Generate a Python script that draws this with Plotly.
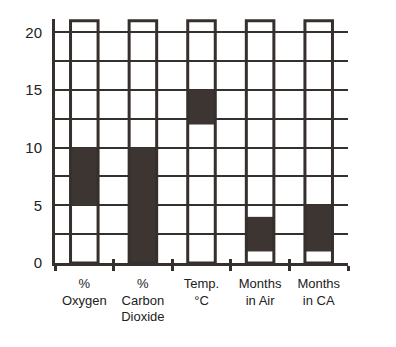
import plotly.graph_objects as go

categories = ["%<br>Oxygen", "%<br>Carbon<br>Dioxide", "Temp.<br>°C", "Months<br>in Air", "Months<br>in CA"]
range_low = [5, 0, 12, 1, 1]
range_high = [10, 10, 15, 4, 5]
column_top = [21, 21, 21, 21, 21]
y_tick_vals = [0, 2.5, 5, 7.5, 10, 12.5, 15, 17.5, 20]
y_tick_text = ["0", "", "5", "", "10", "", "15", "", "20"]

ink = "#35302d"
fill = "#3d3531"

fig = go.Figure()
fig.add_trace(go.Bar(
    x=categories, y=[h - l for h, l in zip(range_high, range_low)], base=range_low,
    width=0.47, marker=dict(color=fill, line=dict(width=0)), showlegend=False,
))
fig.add_trace(go.Bar(
    x=categories, y=column_top, base=0, width=0.47,
    marker=dict(color="rgba(0,0,0,0)", line=dict(color=ink, width=3)),
    showlegend=False, cliponaxis=False,
))
# invisible trace to carry the boundary tick axis
fig.add_trace(go.Scatter(x=[0], y=[0], xaxis="x2", mode="markers",
                         marker=dict(opacity=0), showlegend=False, hoverinfo="skip"))

fig.update_layout(
    width=396, height=347,
    margin=dict(l=55, r=48, t=19, b=84),
    paper_bgcolor="white", plot_bgcolor="white",
    barmode="overlay",
    font=dict(family="Liberation Sans, Arial, sans-serif", color="#222"),
    xaxis=dict(
        type="category", categoryorder="array", categoryarray=categories,
        range=[-0.5, 4.5], tickson="boundaries", ticks="outside", ticklen=5,
        tickwidth=3, tickcolor=ink, showline=True, linecolor=ink, linewidth=3,
        showgrid=False, tickfont=dict(size=13), zeroline=False,
        ticklabelstandoff=6,
    ),
    xaxis2=dict(
        overlaying="x", range=[-0.5, 4.5], tickvals=[-0.5, 0.5, 1.5, 2.5, 3.5, 4.5],
        ticks="inside", ticklen=4, tickwidth=3, tickcolor=ink, showticklabels=False,
        showgrid=False, zeroline=False, showline=False, anchor="y", side="bottom",
    ),
    yaxis=dict(
        range=[0, 21.15], tickvals=y_tick_vals, ticktext=y_tick_text,
        showgrid=True, gridcolor=ink, gridwidth=2, showline=True, linecolor=ink,
        linewidth=3, ticks="", tickfont=dict(size=15), ticklabelstandoff=7,
        zeroline=False,
    ),
)

fig.write_html("out.html")
